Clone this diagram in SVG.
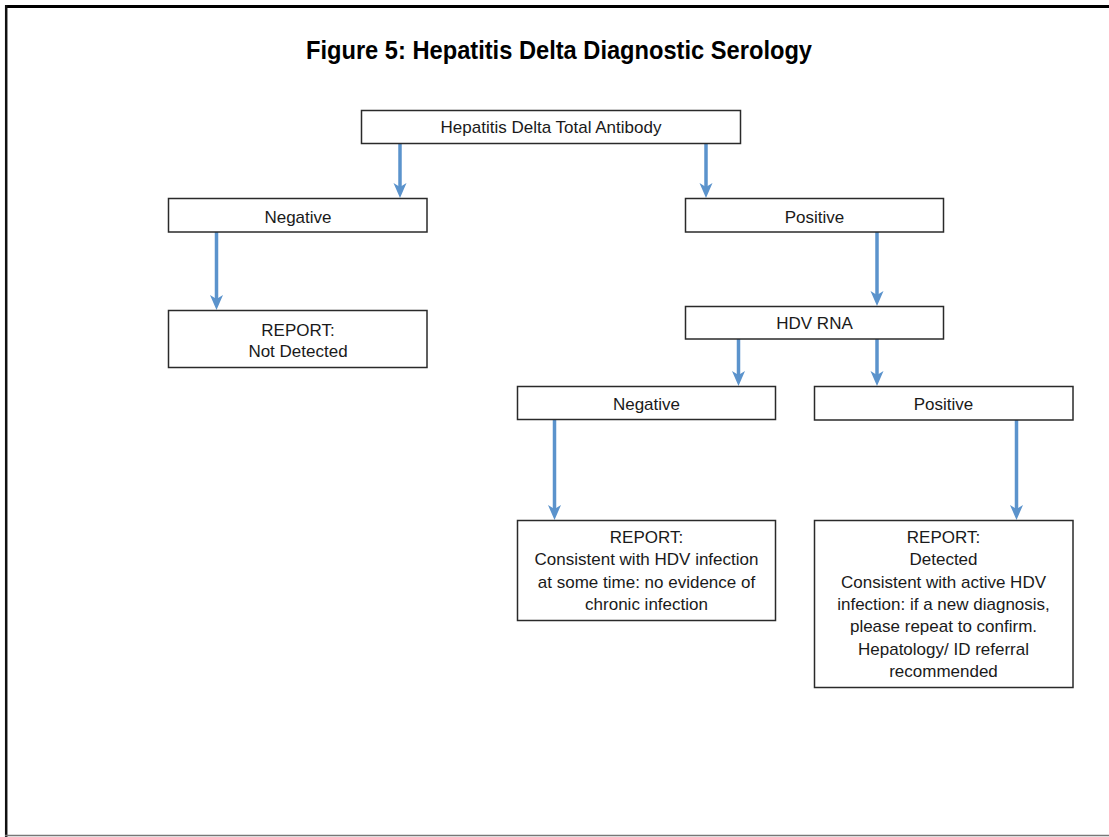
<svg xmlns="http://www.w3.org/2000/svg" xmlns:xlink="http://www.w3.org/1999/xlink" width="1109" height="837" viewBox="0 0 1109 837">
<style>
.box{fill:#ffffff;stroke:#2a2a2a;stroke-width:1.5}
.t{font-family:"Liberation Sans",Arial,sans-serif;font-size:17px;fill:#1a1a1a;text-anchor:middle}
.title{font-family:"Liberation Sans",Arial,sans-serif;font-size:25px;font-weight:bold;fill:#000;text-anchor:middle}
.shaft{stroke:#5b93cc;stroke-width:3.5;fill:none}
.head{fill:#5b93cc}
</style>
<defs>
<path id="ah" d="M-6.5,-15 L0,-11 L6.5,-15 L0,0 Z"/>
</defs>
<rect x="0" y="0" width="1109" height="837" fill="#ffffff"/>
<g id="frame">
<line x1="5" y1="6.5" x2="1109" y2="6.5" stroke="#000" stroke-width="3"/>
<line x1="6.2" y1="5" x2="6.2" y2="837" stroke="#111" stroke-width="2.5"/>
<line x1="5" y1="835.5" x2="1109" y2="835.5" stroke="#777" stroke-width="1.5"/>
</g>
<text class="title" x="559" y="59" textLength="506" lengthAdjust="spacingAndGlyphs">Figure 5: Hepatitis Delta Diagnostic Serology</text>
<g id="connectors">
<line class="shaft" x1="400" y1="143" x2="400" y2="188"/><use xlink:href="#ah" class="head" x="400" y="198"/>
<line class="shaft" x1="706" y1="143" x2="706" y2="188"/><use xlink:href="#ah" class="head" x="706" y="198"/>
<line class="shaft" x1="216.5" y1="232" x2="216.5" y2="300"/><use xlink:href="#ah" class="head" x="216.5" y="310"/>
<line class="shaft" x1="877" y1="232" x2="877" y2="296"/><use xlink:href="#ah" class="head" x="877" y="306"/>
<line class="shaft" x1="738.5" y1="339" x2="738.5" y2="376"/><use xlink:href="#ah" class="head" x="738.5" y="386"/>
<line class="shaft" x1="877" y1="339" x2="877" y2="376"/><use xlink:href="#ah" class="head" x="877" y="386"/>
<line class="shaft" x1="554.5" y1="419" x2="554.5" y2="510"/><use xlink:href="#ah" class="head" x="554.5" y="520"/>
<line class="shaft" x1="1016.5" y1="420" x2="1016.5" y2="510"/><use xlink:href="#ah" class="head" x="1016.5" y="520"/>
</g>
<g id="n_antibody">
<rect class="box" x="361.5" y="110.5" width="379" height="33"/>
<text class="t" x="551" y="133">Hepatitis Delta Total Antibody</text>
</g>
<g id="n_neg1">
<rect class="box" x="168.5" y="198.5" width="258.5" height="33.5"/>
<text class="t" x="298" y="223">Negative</text>
</g>
<g id="n_pos1">
<rect class="box" x="685.5" y="198.5" width="258" height="33.5"/>
<text class="t" x="814.5" y="223">Positive</text>
</g>
<g id="n_report_nd">
<rect class="box" x="168.5" y="310.5" width="258.5" height="57"/>
<text class="t" x="298" y="335.5">REPORT:</text>
<text class="t" x="298" y="357">Not Detected</text>
</g>
<g id="n_hdvrna">
<rect class="box" x="685.5" y="306.5" width="258" height="32.5"/>
<text class="t" x="814.5" y="329">HDV RNA</text>
</g>
<g id="n_neg2">
<rect class="box" x="517.5" y="386.5" width="258" height="33"/>
<text class="t" x="646.5" y="410">Negative</text>
</g>
<g id="n_pos2">
<rect class="box" x="814.5" y="386.5" width="258.5" height="33.5"/>
<text class="t" x="943.5" y="410">Positive</text>
</g>
<g id="n_report_past">
<rect class="box" x="517.5" y="520.5" width="258" height="100"/>
<text class="t" x="646.5" y="543">REPORT:</text>
<text class="t" x="646.5" y="565.3">Consistent with HDV infection</text>
<text class="t" x="646.5" y="587.6">at some time: no evidence of</text>
<text class="t" x="646.5" y="609.9">chronic infection</text>
</g>
<g id="n_report_active">
<rect class="box" x="814.5" y="520.5" width="258.5" height="167"/>
<text class="t" x="943.5" y="543">REPORT:</text>
<text class="t" x="943.5" y="565.3">Detected</text>
<text class="t" x="943.5" y="587.6">Consistent with active HDV</text>
<text class="t" x="943.5" y="609.9">infection: if a new diagnosis,</text>
<text class="t" x="943.5" y="632.2">please repeat to confirm.</text>
<text class="t" x="943.5" y="654.5">Hepatology/ ID referral</text>
<text class="t" x="943.5" y="676.8">recommended</text>
</g>
</svg>
